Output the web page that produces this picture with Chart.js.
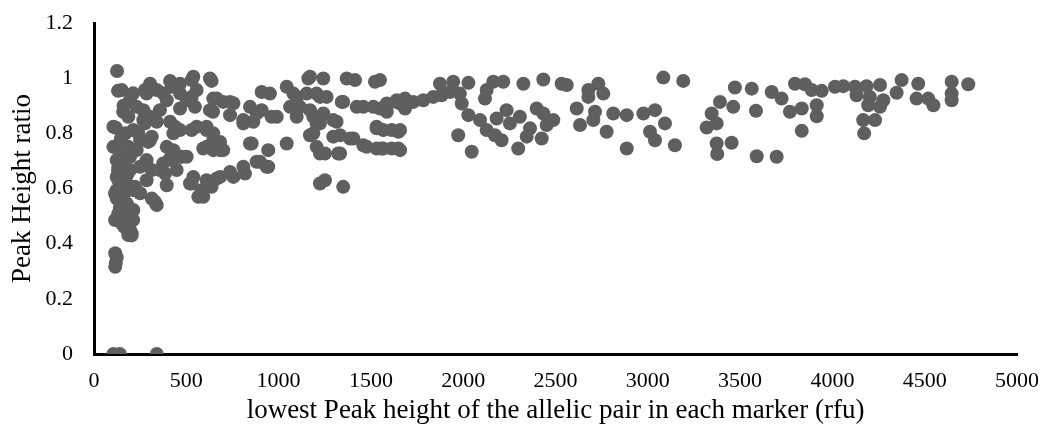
<!DOCTYPE html>
<html>
<head>
<meta charset="utf-8">
<script src="https://cdn.jsdelivr.net/npm/chart.js@4/dist/chart.umd.min.js"></script>
<style>
  html, body { margin: 0; padding: 0; background: #fff; }
  #wrap { width: 1041px; height: 433px; }
</style>
</head>
<body>
<div id="wrap"><canvas id="myChart"></canvas></div>
<script>
// lowest peak height of the allelic pair (rfu)
const rfu = [
  105, 140, 340, 115, 123, 118, 115,
  125, 130, 118, 114, 130, 123, 204, 105, 105, 132, 123, 123, 123, 132, 150, 186, 114, 114, 132, 123,
  150, 212, 158, 267, 195, 231, 267, 213, 231, 195, 195, 177, 213, 177, 213, 159, 303, 340, 285, 340, 276, 186, 276, 294, 186, 222, 186, 168, 204, 212, 195, 250, 285, 250, 303, 249, 240, 285, 313, 313, 330, 313, 340,
  304, 412, 538, 637, 375, 466, 529, 357, 466, 547, 394, 502, 556, 466, 421, 529, 439, 529, 412, 466, 430, 556, 610, 646, 592, 646, 700, 683, 502, 466, 412, 421, 475, 357, 448, 385, 375, 394, 430, 394, 520, 538, 529, 583, 565, 592, 637, 610, 665, 683,
  628, 646, 665, 700, 737, 755, 628, 645, 737, 809, 863, 809, 845, 881, 908, 953, 908, 962, 990, 1044, 1080, 1098, 1062, 1116, 1098, 610, 646, 610, 683, 845, 854, 944, 1044, 737, 755, 809, 818, 881, 899, 935, 944,
  1161, 1170, 1242, 1369, 1414, 1522, 1549, 1152, 1206, 1224, 1260, 1342, 1350, 1423, 1459, 1513, 1549, 1586, 1640, 1658, 1170, 1188, 1242, 1224, 1206, 1296, 1314, 1188, 1170, 1296, 1333, 1387, 1405, 1206, 1224, 1251, 1323, 1333, 1459, 1477, 1531, 1558, 1613, 1649, 1531, 1531, 1613, 1658, 1224, 1251, 1350,
  1874, 1946, 2028, 2163, 2217, 2326, 2434, 2533, 2561, 2127, 2118, 1586, 1640, 1685, 1730, 1784, 1838, 1883, 1928, 1982, 1992, 1685, 1586, 2028, 2091, 2127, 2172, 2208, 2181, 2235, 2253, 2307, 2398, 2434, 2488, 2452, 2362, 2344, 2425, 2298, 2046, 1973, 1649, 1567, 1658, 1567,
  2678, 2732, 2759, 2678, 3084, 3192, 2615, 2633, 2714, 2705, 2813, 2886, 2976, 3039, 3093, 3012, 3039, 3147, 2886, 2777,
  3472, 3563, 3391, 3463, 3346, 3373, 3319, 3586, 3373, 3376, 3454, 3590, 3698, 3671, 3725, 3770, 3834, 3834, 3797, 3851, 3888, 3942, 3915, 3915, 4014, 4059, 4122, 4185, 4258, 4131, 4203, 4276, 4194, 4258, 4167, 4231, 4172, 4375, 4348, 4465, 4456, 4519, 4547, 4646, 4736, 4646, 4646,
  160, 170, 145, 150, 165, 180, 145, 160, 175, 150, 140, 165
];

// peak height ratio
const ratio = [
  0, 0, 0, 0.365, 0.35, 0.33, 0.316,
  1.026, 0.954, 0.82, 0.75, 0.667, 0.57, 0.43, 0.824, 0.751, 0.679, 0.642, 0.594, 0.564, 0.51, 0.473, 0.431, 0.486, 0.582, 0.63, 0.703,
  0.957, 0.945, 0.878, 0.884, 0.92, 0.896, 0.848, 0.812, 0.739, 0.715, 0.667, 0.618, 0.594, 0.546, 0.522, 0.57, 0.86, 0.842, 0.944, 0.957, 0.957, 0.86, 0.836, 0.769, 0.751, 0.606, 0.534, 0.473, 0.437, 0.486, 0.449, 0.583, 0.703, 0.775, 0.775, 0.679, 0.8, 0.63, 0.788, 0.667, 0.552, 0.564, 0.54,
  0.98, 0.99, 1.005, 0.99, 0.945, 0.945, 0.932, 0.884, 0.89, 0.896, 0.92, 0.92, 0.957, 0.98, 0.969, 0.993, 0.824, 0.812, 0.842, 0.812, 0.8, 0.824, 0.824, 0.8, 0.745, 0.739, 0.739, 0.769, 0.715, 0.715, 0.709, 0.703, 0.715, 0.667, 0.667, 0.654, 0.691, 0.751, 0.739, 0.612, 0.618, 0.642, 0.618, 0.594, 0.57, 0.57, 0.606, 0.63, 0.636, 0.642,
  0.999, 0.926, 0.926, 0.914, 0.914, 0.909, 0.884, 0.878, 0.866, 0.848, 0.842, 0.836, 0.896, 0.872, 0.95, 0.944, 0.884, 0.86, 0.86, 0.969, 0.944, 0.932, 0.896, 0.896, 0.86, 0.812, 0.775, 0.751, 0.739, 0.763, 0.763, 0.739, 0.763, 0.66, 0.642, 0.679, 0.654, 0.697, 0.697, 0.679, 0.679,
  0.999, 1.005, 0.999, 0.999, 0.993, 0.987, 0.993, 0.944, 0.944, 0.932, 0.932, 0.914, 0.914, 0.896, 0.896, 0.896, 0.89, 0.896, 0.914, 0.908, 0.884, 0.86, 0.872, 0.836, 0.836, 0.848, 0.842, 0.8, 0.793, 0.788, 0.793, 0.781, 0.781, 0.751, 0.727, 0.727, 0.727, 0.727, 0.757, 0.751, 0.745, 0.745, 0.745, 0.745, 0.824, 0.818, 0.812, 0.812, 0.618, 0.63, 0.606,
  0.98, 0.987, 0.983, 0.987, 0.987, 0.98, 0.995, 0.98, 0.975, 0.957, 0.926, 0.908, 0.92, 0.926, 0.914, 0.92, 0.932, 0.938, 0.95, 0.944, 0.908, 0.89, 0.878, 0.866, 0.848, 0.812, 0.793, 0.775, 0.854, 0.884, 0.836, 0.86, 0.89, 0.872, 0.848, 0.83, 0.818, 0.788, 0.781, 0.745, 0.733, 0.793, 0.806, 0.812, 0.739, 0.745,
  0.957, 0.98, 0.944, 0.932, 1.002, 0.99, 0.89, 0.83, 0.878, 0.848, 0.872, 0.866, 0.872, 0.884, 0.836, 0.806, 0.775, 0.757, 0.745, 0.806,
  0.966, 0.962, 0.914, 0.896, 0.872, 0.836, 0.821, 0.882, 0.763, 0.725, 0.766, 0.717, 0.715, 0.95, 0.926, 0.878, 0.89, 0.809, 0.98, 0.978, 0.957, 0.954, 0.902, 0.862, 0.969, 0.971, 0.969, 0.971, 0.975, 0.938, 0.932, 0.92, 0.902, 0.896, 0.848, 0.848, 0.8, 0.993, 0.947, 0.98, 0.926, 0.926, 0.902, 0.987, 0.978, 0.944, 0.92,
  0.9, 0.8, 0.78, 0.69, 0.72, 0.65, 0.6, 0.55, 0.5, 0.66, 0.53, 0.46
];

const xTicks = [0, 500, 1000, 1500, 2000, 2500, 3000, 3500, 4000, 4500, 5000];
const yTicks = [0, 0.2, 0.4, 0.6, 0.8, 1, 1.2];

const points = rfu.map((x, i) => ({ x: x, y: ratio[i] }));

const serif = '"Liberation Serif", "Times New Roman", serif';
const tickFont = { family: serif, size: 22 };
const titleFont = { family: serif, size: 27 };

new Chart(document.getElementById('myChart'), {
  type: 'scatter',
  data: {
    datasets: [{
      data: points,
      backgroundColor: '#5f5f5f',
      borderWidth: 0,
      pointRadius: 7,
      pointHoverRadius: 7
    }]
  },
  options: {
    responsive: true,
    maintainAspectRatio: false,
    animation: false,
    events: [],
    layout: { padding: { top: 23, right: 24, left: 0, bottom: 0 } },
    plugins: { legend: { display: false }, tooltip: { enabled: false } },
    scales: {
      x: {
        type: 'linear',
        min: 0,
        max: 5000,
        afterBuildTicks: s => { s.ticks = xTicks.map(v => ({ value: v })); },
        afterFit: s => { s.height = 79; s.paddingLeft = 0; s.paddingRight = 0; },
        grid: { display: false, drawTicks: false },
        border: { color: '#000', width: 3 },
        ticks: { color: '#000', font: tickFont, padding: 14, maxRotation: 0, callback: v => String(v) },
        title: { display: true, text: 'lowest Peak height of the allelic pair in each marker (rfu)', color: '#000', font: titleFont, padding: { top: 6, bottom: 6 } }
      },
      y: {
        min: 0,
        max: 1.2,
        afterBuildTicks: s => { s.ticks = yTicks.map(v => ({ value: v })); },
        afterFit: s => { s.width = 94; s.paddingTop = 0; s.paddingBottom = 0; },
        grid: { display: false, drawTicks: false },
        border: { color: '#000', width: 3 },
        ticks: { color: '#000', font: tickFont, padding: 21, callback: v => String(Math.round(v * 10) / 10) },
        title: { display: true, text: 'Peak Height ratio', color: '#000', font: titleFont, padding: { top: 7, bottom: 7 } }
      }
    }
  }
});
</script>
</body>
</html>
